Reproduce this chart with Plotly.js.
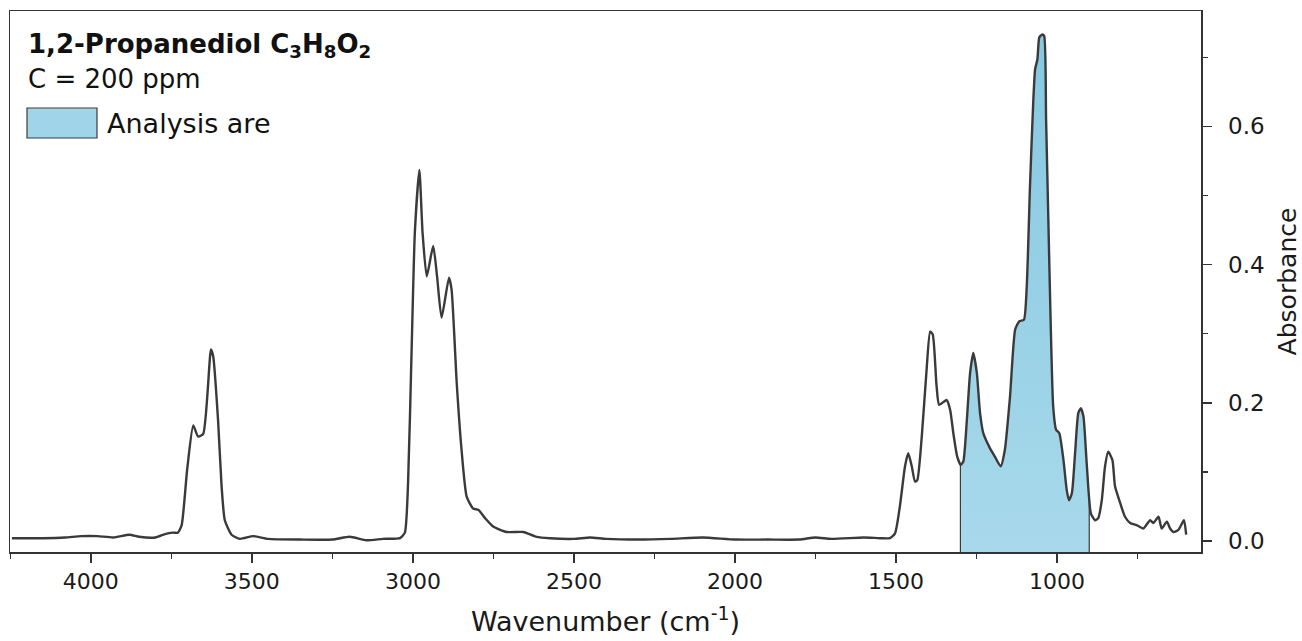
<!DOCTYPE html>
<html>
<head>
<meta charset="utf-8">
<script src="https://cdn.plot.ly/plotly-3.0.1.min.js"></script>
<style>
  html, body { margin: 0; padding: 0; background: #ffffff; }
  #chart { width: 1302px; height: 641px; }
</style>
</head>
<body>
<div id="chart"></div>
<script>
// ---- data ----
const wavenumber = [
  4245, 4150, 4080, 4030, 3980, 3930, 3880, 3850, 3800, 3770, 3745, 3730, 3718, 3701,
  3682, 3667, 3651, 3627, 3620, 3605, 3594, 3584, 3563, 3537, 3496, 3450, 3350, 3250,
  3196, 3144, 3093, 3040, 3025, 3015, 3004, 2994, 2980, 2970, 2957, 2937, 2925, 2911,
  2888, 2880, 2864, 2849, 2833, 2813, 2797, 2776, 2751, 2709, 2657, 2616, 2575, 2500,
  2450, 2400, 2300, 2200, 2100, 2000, 1900, 1800, 1750, 1700, 1600, 1550, 1519, 1503,
  1488, 1472, 1462, 1451, 1441, 1434, 1420, 1405, 1394, 1386, 1374, 1366, 1343, 1332,
  1322, 1310, 1299, 1291, 1280, 1270, 1260, 1249, 1239, 1229, 1208, 1193, 1175, 1162,
  1146, 1130, 1117, 1103, 1094, 1084, 1074, 1068, 1061, 1055, 1046, 1040, 1034, 1027,
  1020, 1012, 1003, 993, 980, 970, 963, 954, 944, 934, 926, 918, 908, 895,
  882, 872, 861, 851, 841, 828, 820, 804, 789, 773, 753, 732, 711, 701,
  685, 675, 659, 649, 639, 623, 606, 599
];
const absorbance = [
  0.004, 0.004, 0.005, 0.007, 0.007, 0.005, 0.009, 0.006, 0.005, 0.010, 0.012, 0.012, 0.023, 0.103,
  0.167, 0.151, 0.155, 0.277, 0.267, 0.175, 0.079, 0.030, 0.009, 0.003, 0.007, 0.003, 0.002, 0.002,
  0.006, 0.001, 0.003, 0.004, 0.012, 0.084, 0.277, 0.446, 0.537, 0.446, 0.383, 0.427, 0.383, 0.323,
  0.381, 0.364, 0.229, 0.132, 0.064, 0.047, 0.045, 0.033, 0.021, 0.013, 0.013, 0.006, 0.004, 0.003,
  0.005, 0.003, 0.002, 0.003, 0.005, 0.002, 0.002, 0.002, 0.005, 0.003, 0.005, 0.004, 0.004, 0.011,
  0.050, 0.108, 0.127, 0.108, 0.086, 0.088, 0.151, 0.248, 0.303, 0.299, 0.224, 0.197, 0.204, 0.190,
  0.156, 0.122, 0.110, 0.115, 0.175, 0.243, 0.272, 0.243, 0.185, 0.156, 0.134, 0.122, 0.108, 0.132,
  0.209, 0.306, 0.318, 0.320, 0.369, 0.513, 0.634, 0.683, 0.697, 0.729, 0.733, 0.731, 0.610, 0.465,
  0.320, 0.195, 0.161, 0.156, 0.117, 0.074, 0.059, 0.069, 0.127, 0.185, 0.192, 0.180, 0.113, 0.040,
  0.030, 0.033, 0.059, 0.108, 0.129, 0.117, 0.079, 0.055, 0.035, 0.026, 0.023, 0.018, 0.030, 0.026,
  0.035, 0.018, 0.028, 0.018, 0.013, 0.016, 0.030, 0.009
];
const analysisRange = [1300, 900];          // shaded analysis window (cm-1)
const xTickStep = 500;
const yTickStep = 0.2;
const titleLines = ['<b>1,2-Propanediol C<sub>3</sub>H<sub>8</sub>O<sub>2</sub></b>', 'C = 200 ppm'];
const legendLabel = 'Analysis are';
const xTitle = 'Wavenumber (cm<sup>-1</sup>)';
const yTitle = 'Absorbance';

// ---- layout constants ----
const W = 1302, H = 641;
const M = {l: 10, r: 101, t: 11, b: 89};
const XRANGE = [4251, 553];
const YRANGE = [-0.016, 0.767];
const FONT = 'DejaVu Sans, Arial, sans-serif';
const INK = '#333333';
const LINE = '#3a3a3a';
const SMOOTH = 0.55;

// linear interpolation on the curve (x descending)
function curveAt(x) {
  for (let i = 0; i < wavenumber.length - 1; i++) {
    const a = wavenumber[i], b = wavenumber[i + 1];
    if (x <= a && x >= b) {
      const t = (a - x) / (a - b);
      return absorbance[i] + t * (absorbance[i + 1] - absorbance[i]);
    }
  }
  return 0;
}

// segment of the curve inside the analysis window
const hi = analysisRange[0], lo = analysisRange[1];
const segX = [hi], segY = [curveAt(hi)];
for (let i = 0; i < wavenumber.length; i++) {
  if (wavenumber[i] < hi && wavenumber[i] > lo) { segX.push(wavenumber[i]); segY.push(absorbance[i]); }
}
segX.push(lo); segY.push(curveAt(lo));

const traces = [
  { // floor of the shaded window (axis bottom)
    x: [hi, lo], y: [YRANGE[0], YRANGE[0]], type: 'scatter', mode: 'lines',
    line: {width: 0, color: 'rgba(0,0,0,0)'}, hoverinfo: 'skip', showlegend: false
  },
  { // shaded window
    x: segX, y: segY, type: 'scatter', mode: 'lines', fill: 'tonexty',
    fillcolor: '#a3d6ea',
    fillgradient: {type: 'vertical', start: YRANGE[0], stop: 0.74,
      colorscale: [[0, '#a8d9eb'], [1, '#86c8e1']]},
    line: {width: 0, color: 'rgba(0,0,0,0)', shape: 'spline', smoothing: SMOOTH},
    hoverinfo: 'skip', showlegend: false
  },
  { // window edges
    x: [hi, hi, null, lo, lo], y: [YRANGE[0], curveAt(hi), null, YRANGE[0], curveAt(lo)],
    type: 'scatter', mode: 'lines', line: {color: LINE, width: 1.2},
    hoverinfo: 'skip', showlegend: false
  },
  { // spectrum
    x: wavenumber, y: absorbance, type: 'scatter', mode: 'lines',
    line: {color: LINE, width: 2.4, shape: 'spline', smoothing: SMOOTH}, showlegend: false
  }
];

const pw = W - M.l - M.r, ph = H - M.t - M.b;
const px = v => (v - M.l) / pw;
const py = v => (H - M.b - v) / ph;

const layout = {
  width: W, height: H,
  margin: {l: M.l, r: M.r, t: M.t, b: M.b, pad: 0},
  paper_bgcolor: '#ffffff', plot_bgcolor: '#ffffff',
  showlegend: false,
  font: {family: FONT, color: '#1a1a1a'},
  xaxis: {
    range: XRANGE, tick0: 0, dtick: xTickStep,
    ticks: 'outside', ticklen: 9, tickwidth: 1.5, tickcolor: INK,
    showline: true, linecolor: INK, linewidth: 1.5, mirror: true,
    showgrid: false, zeroline: false,
    tickfont: {family: FONT, size: 22, color: '#1a1a1a'},
    ticklabelstandoff: 0,
    minor: {dtick: xTickStep / 2, tick0: 0, ticks: 'outside', ticklen: 5, tickwidth: 1.5, tickcolor: INK, showgrid: false},
    title: {text: xTitle, font: {family: FONT, size: 27, color: '#1a1a1a'}, standoff: 19}
  },
  yaxis: {
    side: 'right',
    range: YRANGE, tick0: 0, dtick: yTickStep, tickformat: '.1f',
    ticks: 'outside', ticklen: 9, tickwidth: 1.5, tickcolor: INK,
    showline: true, linecolor: INK, linewidth: 1.5, mirror: true,
    showgrid: false, zeroline: false,
    tickfont: {family: FONT, size: 23, color: '#1a1a1a'},
    ticklabelstandoff: 12,
    minor: {dtick: yTickStep / 2, tick0: 0, ticks: 'outside', ticklen: 5, tickwidth: 1.5, tickcolor: INK, showgrid: false},
    title: {text: yTitle, font: {family: FONT, size: 25, color: '#1a1a1a'}, standoff: 16}
  },
  shapes: [
    {type: 'rect', xref: 'paper', yref: 'paper',
     x0: px(27), x1: px(97), y0: py(138), y1: py(108),
     fillcolor: '#a0d4e9', line: {color: '#3a3a3a', width: 1.2}}
  ],
  annotations: [
    {xref: 'paper', yref: 'paper', x: px(26), y: py(45), xanchor: 'left', yanchor: 'middle',
     text: titleLines[0], showarrow: false, font: {family: FONT, size: 26, color: '#111111'}},
    {xref: 'paper', yref: 'paper', x: px(26), y: py(79), xanchor: 'left', yanchor: 'middle',
     text: titleLines[1], showarrow: false, font: {family: FONT, size: 26, color: '#111111'}},
    {xref: 'paper', yref: 'paper', x: px(105), y: py(124), xanchor: 'left', yanchor: 'middle',
     text: legendLabel, showarrow: false, font: {family: FONT, size: 27, color: '#111111'}}
  ]
};

Plotly.newPlot('chart', traces, layout, {displayModeBar: false, staticPlot: true});
</script>
</body>
</html>
